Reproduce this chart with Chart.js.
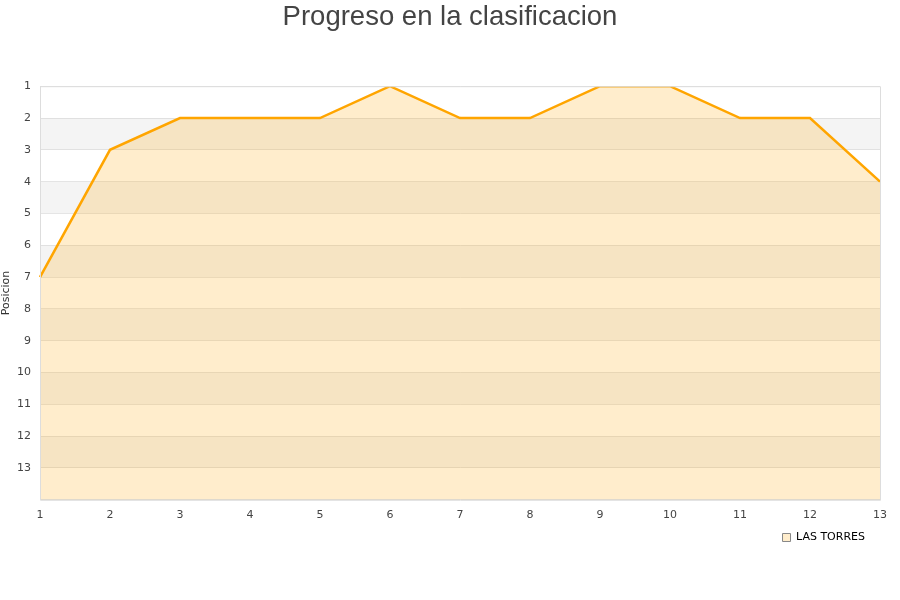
<!DOCTYPE html>
<html>
<head>
<meta charset="utf-8">
<script src="https://cdn.jsdelivr.net/npm/chart.js@4"></script>
<style>
html,body{margin:0;padding:0;background:#fff;}
#wrap{width:900px;height:600px;}
</style>
</head>
<body>
<div id="wrap"><canvas id="c" width="900" height="600"></canvas></div>
<script>
const jornadas = ["1","2","3","4","5","6","7","8","9","10","11","12","13"];
const posiciones = [7,3,2,2,2,1,2,2,1,1,2,2,4];
const equipo = "LAS TORRES";
const tituloGrafico = "Progreso en la clasificacion";
const tituloEje = "Posicion";

const bandas = {
  id: 'bandas',
  beforeDraw(chart) {
    const {ctx, chartArea, scales} = chart;
    const y = scales.y;
    ctx.save();
    for (let v = 1; v < 14; v++) {
      const a = y.getPixelForValue(v), b = y.getPixelForValue(v + 1);
      ctx.fillStyle = (v % 2 === 0) ? '#f4f4f4' : '#ffffff';
      ctx.fillRect(chartArea.left, Math.min(a, b), chartArea.right - chartArea.left, Math.abs(b - a));
    }
    ctx.restore();
  },
  afterDraw(chart) {
    const {ctx, chartArea} = chart;
    ctx.save();
    ctx.strokeStyle = '#dddddd';
    ctx.lineWidth = 1;
    ctx.beginPath();
    ctx.moveTo(chartArea.left + 0.5, chartArea.top + 0.5);
    ctx.lineTo(chartArea.right + 0.5, chartArea.top + 0.5);
    ctx.lineTo(chartArea.right + 0.5, chartArea.bottom + 0.5);
    ctx.lineTo(chartArea.left + 0.5, chartArea.bottom + 0.5);
    ctx.closePath();
    ctx.stroke();
    // title centred on the full canvas
    ctx.fillStyle = '#444444';
    ctx.font = 'normal 27.5px "Liberation Sans", Arial, sans-serif';
    ctx.textAlign = 'center';
    ctx.textBaseline = 'alphabetic';
    ctx.fillText(tituloGrafico, chart.width / 2, 25);
    ctx.restore();
  }
};

new Chart(document.getElementById('c'), {
  type: 'line',
  data: {
    labels: jornadas,
    datasets: [{
      label: equipo,
      data: posiciones,
      borderColor: '#ffa500',
      backgroundColor: 'rgba(255,165,0,0.2)',
      borderWidth: 2.5,
      fill: {value: 14},
      pointRadius: 0,
      tension: 0
    }]
  },
  options: {
    responsive: false,
    animation: false,
    layout: {padding: {left: 0, right: 20, top: 0, bottom: 47}},
    plugins: {
      title: {
        display: true,
        text: tituloGrafico,
        color: 'rgba(0,0,0,0)',
        font: {family: 'Liberation Sans, Arial, sans-serif', size: 26, weight: 'normal'},
        padding: {top: 0, bottom: 55}
      },
      legend: {
        position: 'bottom',
        align: 'end',
        labels: {
          boxWidth: 8,
          boxHeight: 8,
          padding: 15,
          color: '#111111',
          font: {family: 'DejaVu Sans, sans-serif', size: 11},
          generateLabels(chart) {
            return [{text: equipo, fillStyle: '#ffedcc', strokeStyle: '#888888', lineWidth: 1, datasetIndex: 0}];
          }
        }
      },
      tooltip: {enabled: false}
    },
    scales: {
      x: {
        type: 'category',
        offset: false,
        afterFit(scale) {
          scale.height -= 6;
          scale._computeLabelArea = () => undefined;
        },
        grid: {display: false},
        border: {display: true, color: '#dddddd'},
        ticks: {color: '#444', font: {family: 'DejaVu Sans, sans-serif', size: 11}, maxRotation: 0, padding: 1}
      },
      y: {
        reverse: true,
        min: 1,
        max: 14,
        afterFit(scale) { scale.width = 40; },
        title: {display: true, text: tituloEje, color: '#333', font: {family: 'DejaVu Sans, sans-serif', size: 11}, padding: 0},
        grid: {color: 'rgba(200,200,200,0.45)', drawTicks: false},
        border: {display: true, color: '#dddddd'},
        ticks: {
          stepSize: 1,
          color: '#444',
          padding: 9,
          font: {family: 'DejaVu Sans, sans-serif', size: 11},
          callback: (v) => v === 14 ? '' : v
        }
      }
    }
  },
  plugins: [bandas]
});
</script>
</body>
</html>
